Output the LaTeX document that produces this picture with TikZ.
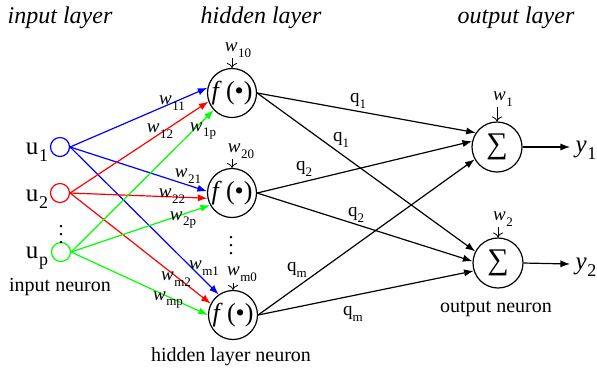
\documentclass[tikz,border=0pt]{standalone}
\usepackage{fontspec}
\setmainfont{Liberation Serif}
\usetikzlibrary{arrows.meta}
\newcommand{\lowsub}[2]{\raisebox{-#1}{\fontsize{6.5}{8}\selectfont#2}}
\newcommand{\wsub}[1]{\textit{w}\kern0.3pt\lowsub{2.8pt}{#1}}
\newcommand{\qsub}[1]{q\lowsub{2.6pt}{#1}}
\newcommand{\usub}[1]{u\kern0.3pt\raisebox{-3.6pt}{\fontsize{9}{10}\selectfont#1}}
\newcommand{\ysub}[1]{\textit{y}\kern0.3pt\raisebox{-3.6pt}{\fontsize{9}{10}\selectfont#1}}
\tikzset{
  neuron/.style={draw,circle,inner sep=0pt,line width=0.6pt},
  innode/.style={neuron,minimum size=9.5pt},
  hidnode/.style={neuron,minimum size=24.5pt,font=\fontsize{13}{15}\selectfont},
  sumnode/.style={neuron,minimum size=25pt,font=\fontsize{15}{18}\selectfont},
  wire/.style={line width=0.6pt,-{Latex[length=4.8pt,width=3.6pt]}},
  bias/.style={line width=0.4pt,->},
  lab/.style={inner sep=0pt,font=\fontsize{9.5}{11}\selectfont},
  biglab/.style={inner sep=0pt,font=\fontsize{12.5}{14}\selectfont},
  caption/.style={inner sep=0pt,font=\fontsize{10}{12}\selectfont},
  layer/.style={inner sep=0pt,font=\fontsize{12}{14}\selectfont\itshape},
}
\begin{document}
\begin{tikzpicture}[x=0.5pt,y=-0.5pt]
        \useasboundingbox (0,0) rectangle (597,372);
        % layer titles
        \node[layer] (tin) at (60,18) {input layer};
        \node[layer] (thid) at (261,18) {hidden layer};
        \node[layer] (tout) at (516,18) {output layer};
        % input neurons
        \node[innode,blue] (u1) at (60,147) {};
        \node[innode,red] (u2) at (60,193) {};
        \node[innode,green] (up) at (61,252) {};
        \node[biglab] (lu1) at (37,152) {\usub{1}};
        \node[biglab] (lu2) at (37,199) {\usub{2}};
        \node[biglab] (lup) at (37,258) {\usub{p}};
        \node[inner sep=0pt] (dotsin) at (61,229) {$\vdots$};
        \node[caption] (cin) at (60,287) {input neuron};
        % hidden neurons
        \node[hidnode] (f1) at (232,93) {\textit{f}\,(\textbullet)};
        \node[hidnode] (f2) at (232,193) {\textit{f}\,(\textbullet)};
        \node[hidnode] (fm) at (233,315) {\textit{f}\,(\textbullet)};
        \node[inner sep=0pt] (dotshid) at (231,240) {$\vdots$};
        \node[caption] (chid) at (231,357) {hidden layer neuron};
        % output neurons
        \node[sumnode] (s1) at (497,147) {∑};
        \node[sumnode] (s2) at (498,263) {∑};
        \node[caption] (cout) at (496,309) {output neuron};
        \coordinate (e1) at (570,147);
        \coordinate (e2) at (570,264);
        \node[biglab] (y1) at (586,150) {\ysub{1}};
        \node[biglab] (y2) at (586,267) {\ysub{2}};
        % biases
        \node[lab] (w10) at (238,50) {\wsub{10}};
        \node[lab] (w20) at (241,151) {\wsub{20}};
        \node[lab] (wm0) at (242,274) {\wsub{m0}};
        \node[lab] (w1) at (503,99) {\wsub{1}};
        \node[lab] (w2) at (503,219) {\wsub{2}};
        \coordinate (b10) at (232,58);
        \coordinate (b20) at (232,159);
        \coordinate (bm0) at (233,283);
        \coordinate (b1) at (497,107);
        \coordinate (b2) at (498,227);
        \draw[bias] (b10) -- (f1.north);
        \draw[bias] (b20) -- (f2.north);
        \draw[bias] (bm0) -- (fm.north);
        \draw[bias] (b1) -- (s1.north);
        \draw[bias] (b2) -- (s2.north);
        % input to hidden
        \draw[wire,blue] (u1.east) -- (f1.168);
        \draw[wire,blue] (u1.east) -- (f2.176);
        \draw[wire,blue] (u1.east) -- (fm.125);
        \draw[wire,red] (u2.east) -- (f1.200);
        \draw[wire,red] (u2.east) -- (f2.192);
        \draw[wire,red] (u2.east) -- (fm.153);
        \draw[wire,green] (up.east) -- (f1.223);
        \draw[wire,green] (up.east) -- (f2.209);
        \draw[wire,green] (up.east) -- (fm.180);
        \node[lab] (w11) at (172,103) {\wsub{11}};
        \node[lab] (w12) at (160,131) {\wsub{12}};
        \node[lab] (w1p) at (203,131) {\wsub{1p}};
        \node[lab] (w21) at (188,176) {\wsub{21}};
        \node[lab] (w22) at (172,196) {\wsub{22}};
        \node[lab] (w2p) at (183,220) {\wsub{2p}};
        \node[lab] (wm1) at (204,268) {\wsub{m1}};
        \node[lab] (wm2) at (176,279) {\wsub{m2}};
        \node[lab] (wmp) at (168,300) {\wsub{mp}};
        % hidden to output
        \draw[wire] (f1.east) -- (s1.146);
        \draw[wire] (f1.east) -- (s2.153);
        \draw[wire] (f2.east) -- (s1.167);
        \draw[wire] (f2.east) -- (s2.176);
        \draw[wire] (fm.east) -- (s1.209);
        \draw[wire] (fm.east) -- (s2.198);
        \node[lab] (q1a) at (358,101) {\qsub{1}};
        \node[lab] (q1b) at (341,140) {\qsub{1}};
        \node[lab] (q2a) at (304,169) {\qsub{2}};
        \node[lab] (q2b) at (356,215) {\qsub{2}};
        \node[lab] (qma) at (297,270) {\qsub{m}};
        \node[lab] (qmb) at (353,314) {\qsub{m}};
        % outputs
        \draw[wire] (s1.east) -- (e1);
        \draw[wire] (s2.east) -- (e2);
      \end{tikzpicture}
\end{document}
